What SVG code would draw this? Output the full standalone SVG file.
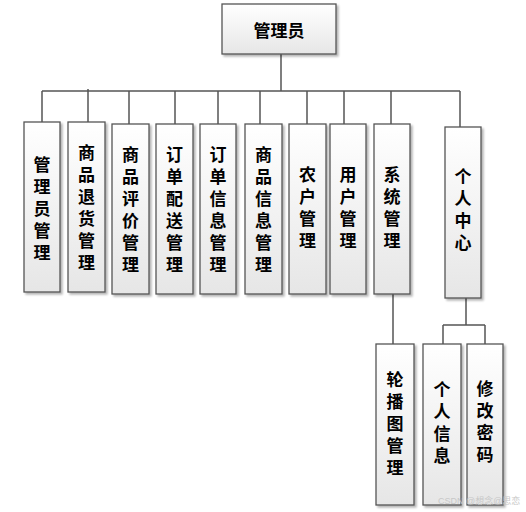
<svg xmlns="http://www.w3.org/2000/svg" width="526" height="512" viewBox="0 0 526 512">
<defs>
<linearGradient id="g" x1="0" y1="0" x2="0" y2="1">
<stop offset="0" stop-color="#ffffff"/>
<stop offset="1" stop-color="#e6e6e6"/>
</linearGradient>
<filter id="sh" x="-20%" y="-10%" width="140%" height="120%">
<feGaussianBlur in="SourceAlpha" stdDeviation="1"/>
<feOffset dx="2" dy="2" result="b"/>
<feComponentTransfer><feFuncA type="linear" slope="0.3"/></feComponentTransfer>
<feMerge><feMergeNode/><feMergeNode in="SourceGraphic"/></feMerge>
</filter>
</defs>
<style>
.box{fill:url(#g);stroke:#555;stroke-width:1.3;filter:url(#sh)}
.h{font-family:"Noto Sans CJK SC","Noto Sans CJK JP",sans-serif;font-weight:bold;font-size:17px;fill:#000;text-anchor:middle;dominant-baseline:central}
.t{font-family:"Noto Sans CJK SC","Noto Sans CJK JP",sans-serif;font-weight:bold;font-size:17px;fill:#000;text-anchor:middle;writing-mode:vertical-rl;text-orientation:upright;letter-spacing:5px}
.ln{stroke:#555;stroke-width:1.5;fill:none}
.wm{font-family:"Liberation Sans","Noto Sans CJK SC",sans-serif;font-size:9px;fill:#c8c8c8}
</style>
<rect width="526" height="512" fill="#fff"/>
<g id="connectors">
<path class="ln" d="M281 54V91M42 91H460M42 91V122M88 89V122M129 91V124M175 91V124M218 91V124M260 91V124M307 91V124M344 91V124M391 91V124M460 91V127"/>
<path class="ln" d="M393 294V344M466 298V325M443 325H485M443 325V344M485 325V344"/>
</g>
<g id="n0"><rect class="box" x="222" y="4" width="114" height="50"/><text class="h" x="279" y="29">管理员</text></g>
<g id="n1"><rect class="box" x="24" y="122" width="36" height="170"/><text class="t" x="42" y="211.5">管理员管理</text></g>
<g id="n2"><rect class="box" x="68" y="122" width="37" height="170"/><text class="t" x="86.5" y="210">商品退货管理</text></g>
<g id="n3"><rect class="box" x="112" y="124" width="37" height="170"/><text class="t" x="130.5" y="212">商品评价管理</text></g>
<g id="n4"><rect class="box" x="156" y="124" width="37" height="170"/><text class="t" x="174.5" y="212">订单配送管理</text></g>
<g id="n5"><rect class="box" x="200" y="124" width="36" height="170"/><text class="t" x="218" y="212">订单信息管理</text></g>
<g id="n6"><rect class="box" x="245" y="124" width="37" height="170"/><text class="t" x="263.5" y="212">商品信息管理</text></g>
<g id="n7"><rect class="box" x="289" y="124" width="37" height="170"/><text class="t" x="307.5" y="210.5">农户管理</text></g>
<g id="n8"><rect class="box" x="330" y="124" width="36" height="170"/><text class="t" x="348" y="210.5">用户管理</text></g>
<g id="n9"><rect class="box" x="374" y="124" width="36" height="170"/><text class="t" x="392" y="210.5">系统管理</text></g>
<g id="n10"><rect class="box" x="445" y="127" width="36" height="171"/><text class="t" x="463" y="212.5">个人中心</text></g>
<g id="n11"><rect class="box" x="376" y="344" width="38" height="161"/><text class="t" x="395" y="426">轮播图管理</text></g>
<g id="n12"><rect class="box" x="423" y="344" width="38" height="161"/><text class="t" x="442" y="425">个人信息</text></g>
<g id="n13"><rect class="box" x="467" y="344" width="36" height="161"/><text class="t" x="485" y="424.5">修改密码</text></g>
<text class="wm" x="438" y="504">CSDN @想念@思恋</text>
</svg>
